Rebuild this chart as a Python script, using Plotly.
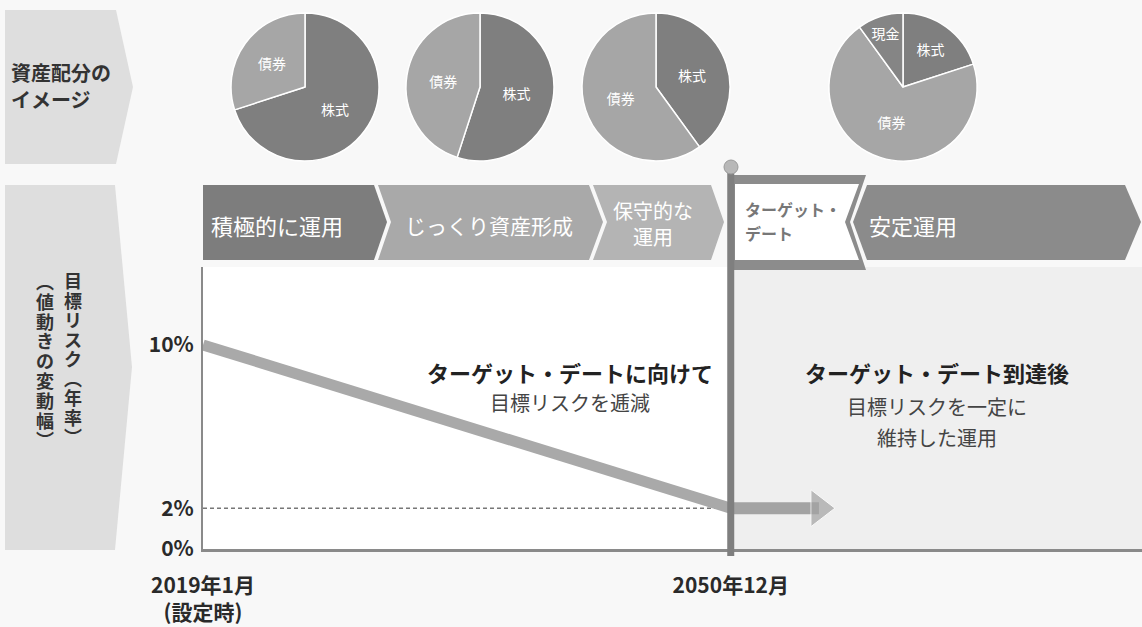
import plotly.graph_objects as go

# ---------------- data ----------------
pie_stock = [70, 55, 40, 20]          # 株式
pie_bond = [30, 45, 60, 70]           # 債券
pie_cash = [0, 0, 0, 10]              # 現金
pie_centers_px = [305, 480, 656, 903]

risk_dates = ["2019-01-01", "2050-12-01"]
risk_values = [10, 2]
after_dates = ["2050-12-01", "2056-04-01"]
after_values = [2, 2]
floor_dates = ["2019-01-01", "2050-12-01"]
floor_values = [2, 2]

y_tick_vals = [0, 2, 10]
y_tick_text = ["0%", "2%", "10%"]
x_tick_vals = ["2019-01-01", "2050-12-01"]
x_tick_text = ["2019年1月<br>(設定時)", "2050年12月"]
x_range = ["2019-01-01", "2075-10-15"]
y_range = [0, 13.82]
target_date = "2050-12-01"

phase_labels = ["積極的に運用", "じっくり資産形成", "保守的な<br>運用", "安定運用"]
y_title_col1 = ["目", "標", "リ", "ス", "ク", "︵", "年", "率", "︶"]
y_title_col2 = ["︵", "値", "動", "き", "の", "変", "動", "幅", "︶"]

# ---------------- helpers ----------------
W, H = 1142, 627
FONT = "Noto Sans CJK JP"


def px(x):
    return x / W


def py(y):
    return 1 - y / H


def path(pts):
    return "M " + " L ".join(f"{px(x):.5f},{py(y):.5f}" for x, y in pts) + " Z"


fig = go.Figure()

# ---------------- pies ----------------
R = 74
for i, cx in enumerate(pie_centers_px):
    labels = ["株式", "債券"]
    values = [pie_stock[i], pie_bond[i]]
    colors = ["#7f7f7f", "#a6a6a6"]
    if pie_cash[i] > 0:
        labels.append("現金")
        values.append(pie_cash[i])
        colors.append("#858585")
    fig.add_trace(go.Pie(
        labels=labels, values=values, sort=False, direction="clockwise", rotation=0,
        marker=dict(colors=colors, line=dict(color="white", width=1.5)),
        textinfo="label", textposition="inside", insidetextorientation="horizontal",
        textfont=dict(family=FONT, size=14, color="white"),
        domain=dict(x=[px(cx - R), px(cx + R)], y=[py(87 + R), py(87 - R)]),
        showlegend=False, hoverinfo="label+percent", automargin=False,
    ))

# ---------------- risk lines ----------------
fig.add_trace(go.Scatter(
    x=floor_dates, y=floor_values, mode="lines",
    line=dict(color="#777777", width=1.5, dash="4px,3px"),
    showlegend=False, hoverinfo="skip"))
fig.add_trace(go.Scatter(
    x=risk_dates, y=risk_values, mode="lines",
    line=dict(color="#a9a9a9", width=11),
    showlegend=False))
fig.add_trace(go.Scatter(
    x=after_dates, y=after_values, mode="lines+markers",
    line=dict(color="#a3a3a3", width=12),
    marker=dict(symbol=["circle", "triangle-right"], size=[0, 32], color="#a3a3a3"),
    showlegend=False))

# ---------------- shapes ----------------
shapes = []
shapes.append(dict(type="rect", xref="x", yref="y", x0=target_date, x1=x_range[1],
                   y0=y_range[0], y1=y_range[1], fillcolor="#efefef", line_width=0,
                   layer="below"))
shapes.append(dict(type="path", xref="paper", yref="paper",
                   path=path([(5, 10), (116, 10), (133, 87), (116, 164), (5, 164)]),
                   fillcolor="#dedede", line_width=0, layer="below"))
shapes.append(dict(type="path", xref="paper", yref="paper",
                   path=path([(5, 185), (115, 185), (132, 367), (115, 550), (5, 550)]),
                   fillcolor="#dedede", line_width=0, layer="below"))
shapes.append(dict(type="path", xref="paper", yref="paper",
                   path=path([(203, 185), (374, 185), (387, 222), (374, 260), (203, 260)]),
                   fillcolor="#7d7d7d", line_width=0))
shapes.append(dict(type="path", xref="paper", yref="paper",
                   path=path([(378, 185), (589, 185), (603, 222), (589, 260), (378, 260), (391, 222)]),
                   fillcolor="#a9a9a9", line_width=0))
shapes.append(dict(type="path", xref="paper", yref="paper",
                   path=path([(593, 185), (711, 185), (724, 222), (711, 260), (593, 260), (607, 222)]),
                   fillcolor="#b4b4b4", line_width=0))
shapes.append(dict(type="path", xref="paper", yref="paper",
                   path=path([(867, 185), (1125, 185), (1141, 222), (1125, 260), (867, 260), (853, 222)]),
                   fillcolor="#8b8b8b", line_width=0))
shapes.append(dict(type="path", xref="paper", yref="paper",
                   path=path([(731, 175), (866, 175), (850, 222), (866, 270), (731, 270)]),
                   fillcolor="#8c8c8c", line_width=0))
shapes.append(dict(type="path", xref="paper", yref="paper",
                   path=path([(735, 184), (859, 184), (845, 222), (859, 260), (735, 260)]),
                   fillcolor="#ffffff", line_width=0))
shapes.append(dict(type="line", xref="x", yref="paper", x0=target_date, x1=target_date,
                   y0=py(556), y1=py(168), line=dict(color="#7f7f7f", width=7)))
shapes.append(dict(type="circle", xref="paper", yref="paper",
                   x0=px(724), x1=px(738), y0=py(174), y1=py(160),
                   fillcolor="#b8b8b8", line=dict(color="#9a9a9a", width=1)))

# ---------------- annotations ----------------
ann = []


def text(x, y, s, size, color, anchor="center", bold=False):
    ann.append(dict(xref="paper", yref="paper", x=px(x), y=py(y), text=(f"<b>{s}</b>" if bold else s),
                    showarrow=False, xanchor=anchor, yanchor="middle", borderpad=0,
                    font=dict(family=FONT, size=size, color=color)))


text(10, 73, "資産配分の", 20, "#333333", "left", True)
text(10, 100, "イメージ", 20, "#333333", "left", True)

# vertical (tategaki) axis title, one glyph per row
for i, ch in enumerate(y_title_col1):
    text(73, 280 + i * 19.5, ch, 18, "#333333", "center", True)
for i, ch in enumerate(y_title_col2):
    text(45, 281 + i * 19.8, ch, 18, "#333333", "center", True)

text(210, 225, phase_labels[0], 22, "white", "left")
text(404, 225, phase_labels[1], 21, "white", "left")
text(612, 223, phase_labels[2], 20, "white", "left")
text(868, 225, phase_labels[3], 22, "white", "left")
text(744, 209, "ターゲット・", 16, "#777777", "left", True)
text(744, 233, "デート", 16, "#777777", "left", True)

text(570, 372, "ターゲット・デートに向けて", 22, "#222222", "center", True)
text(570, 403, "目標リスクを逓減", 20, "#444444", "center")
text(937, 372, "ターゲット・デート到達後", 22, "#222222", "center", True)
text(937, 406, "目標リスクを一定に", 20, "#444444", "center")
text(937, 437, "維持した運用", 20, "#444444", "center")

fig.update_layout(
    width=W, height=H, margin=dict(l=0, r=0, t=0, b=0, autoexpand=False),
    paper_bgcolor="#f8f8f8", plot_bgcolor="white",
    shapes=shapes, annotations=ann, showlegend=False,
    xaxis=dict(domain=[px(203), 1], range=x_range, type="date", automargin=False,
               tickvals=x_tick_vals, ticktext=x_tick_text, ticks="",
               showgrid=False, zeroline=False, showline=True, linecolor="#8a8a8a", linewidth=2.5,
               tickfont=dict(family=FONT, size=21, color="#2a2a2a", weight="bold"),
               ticklabelstandoff=16),
    yaxis=dict(domain=[py(549), py(267)], range=y_range, automargin=False,
               tickvals=y_tick_vals, ticktext=y_tick_text, ticks="",
               showgrid=False, zeroline=False, showline=True, linecolor="#8a8a8a", linewidth=2,
               tickfont=dict(family=FONT, size=21, color="#2a2a2a", weight="bold"),
               ticklabelstandoff=3),
)

fig.write_html("out.html", config={"displayModeBar": False},
               post_script="document.body.style.margin='0';document.body.style.background='#f8f8f8';")
